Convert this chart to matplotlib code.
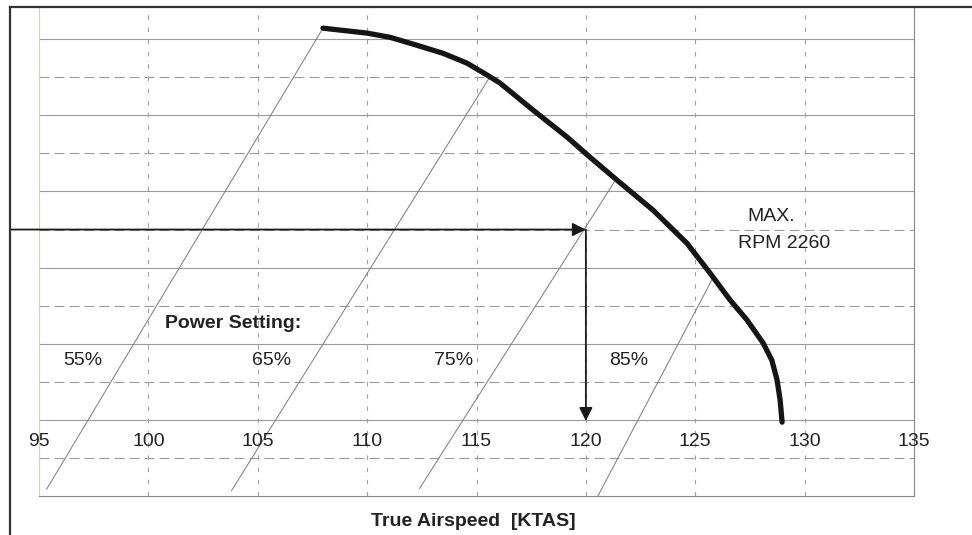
import matplotlib.pyplot as plt
from matplotlib.lines import Line2D

plt.rcParams['font.family'] = ['Liberation Sans', 'DejaVu Sans']

# max rpm limit curve (KTAS, chart units)
curve_x = [107.98, 110.0, 111.05, 112.28, 113.47, 114.57, 115.48, 116.07,
           117.58, 119.14, 120.19, 121.42, 123.07, 124.62, 125.67, 126.59,
           127.37, 128.10, 128.50, 128.74, 128.88, 128.97]
curve_y = [12.29, 12.16, 12.05, 11.84, 11.63, 11.37, 11.06, 10.85,
           10.14, 9.43, 8.90, 8.30, 7.51, 6.64, 5.86, 5.15,
           4.62, 4.02, 3.57, 3.05, 2.52, 1.94]

# power setting lines: (x0, y0, x1, y1)
power_labels = ['55%', '65%', '75%', '85%']
power_lines = [(95.35, 0.18, 107.98, 12.29),
               (103.8, 0.14, 115.6, 11.0),
               (112.4, 0.2, 121.3, 8.25),
               (120.55, 0.0, 125.8, 5.72)]
power_label_x = [97.0, 105.65, 113.93, 121.97]
power_label_y = 3.57

ticks = [95, 100, 105, 110, 115, 120, 125, 130, 135]

# example reading
read_y = 7.0
read_x = 120.0
read_y_end = 1.97

fs = 14

fig = plt.figure(figsize=(9.72, 5.35), dpi=100)
W, H = 972, 535
ax = fig.add_axes([39 / W, 1 - 496 / H, (914 - 39) / W, (496 - 8) / H])
ax.set_xlim(95, 135)
ax.set_ylim(0, 12.82)
ax.set_xticks([])
ax.set_yticks([])
ax.spines['top'].set_visible(False)
ax.spines['left'].set_color('#c8d8c0')
ax.spines['left'].set_linewidth(0.8)
ax.spines['right'].set_color('#888888')
ax.spines['right'].set_linewidth(0.8)
ax.spines['bottom'].set_color('#888888')
ax.spines['bottom'].set_linewidth(0.8)

# grid: solid on even rows, dashed on odd rows
for g in range(1, 13):
    if g % 2 == 0:
        ax.axhline(g, color='#9a9a9a', lw=0.8, zorder=1)
    else:
        ax.axhline(g, color='#9a9a9a', lw=0.8, ls=(0, (9, 4.5)), zorder=1)
for t in ticks[1:-1]:
    ax.axvline(t, color='#a0a0a0', lw=0.8, ls=(0, (4, 7)), zorder=1)

# power setting lines
for x0, y0, x1, y1 in power_lines:
    ax.plot([x0, x1], [y0, y1], color='#7a7a7a', lw=0.7, zorder=2)

# limit curve
ax.plot(curve_x, curve_y, color='#151515', lw=3.8, solid_capstyle='round',
        solid_joinstyle='round', zorder=4)

# example arrows
ax.annotate('', xy=(read_x, read_y), xytext=(93.67, read_y),
            arrowprops=dict(arrowstyle='-|>', color='#1a1a1a', lw=1.3,
                            mutation_scale=20, shrinkA=0, shrinkB=0),
            annotation_clip=False, zorder=5)
ax.annotate('', xy=(read_x, read_y_end), xytext=(read_x, read_y),
            arrowprops=dict(arrowstyle='-|>', color='#1a1a1a', lw=1.3,
                            mutation_scale=20, shrinkA=0, shrinkB=0),
            zorder=5)

# tick labels sit inside the plot
for t in ticks:
    ax.text(t, 1.42, str(t), ha='center', va='center', fontsize=fs,
            color='#222222', zorder=6)

ax.text(100.76, 4.54, 'Power Setting:', ha='left', va='center',
        fontsize=fs, fontweight='bold', color='#222222')
for lab, lx in zip(power_labels, power_label_x):
    ax.text(lx, power_label_y, lab, ha='center', va='center', fontsize=fs,
            color='#222222')

ax.text(128.46, 7.33, 'MAX.', ha='center', va='center', fontsize=fs,
        color='#222222')
ax.text(129.06, 6.64, 'RPM 2260', ha='center', va='center', fontsize=fs,
        color='#222222')

fig.text(473 / W, 1 - 522 / H, 'True Airspeed  [KTAS]', ha='center',
         va='center', fontsize=fs, fontweight='bold', color='#222222')

# outer border of the sheet
fig.add_artist(Line2D([10 / W, 10 / W], [0, 1 - 7 / H], color='#333333',
                      lw=1.6, transform=fig.transFigure))
fig.add_artist(Line2D([10 / W, 1], [1 - 7 / H, 1 - 7 / H], color='#333333',
                      lw=1.6, transform=fig.transFigure))

fig.savefig('out.png', dpi=100)
